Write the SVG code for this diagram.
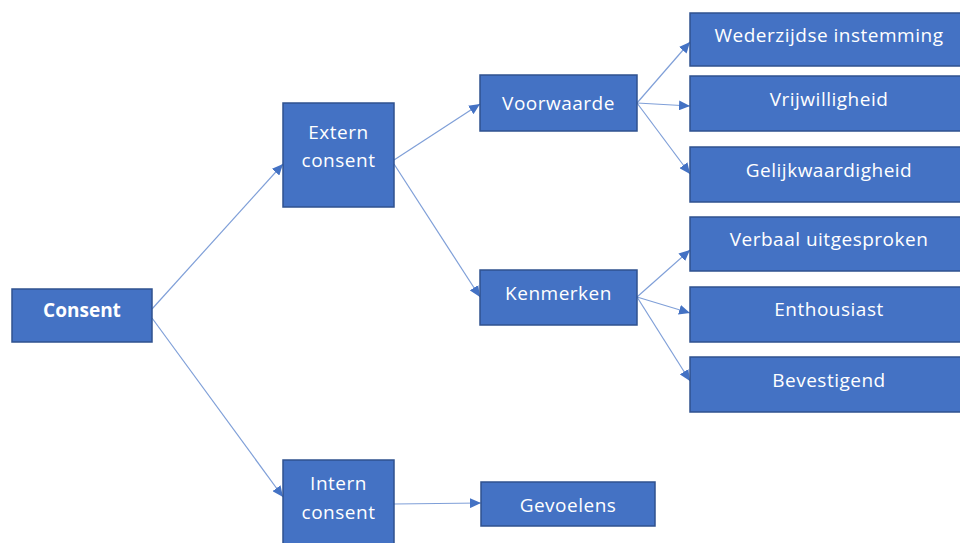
<svg xmlns="http://www.w3.org/2000/svg" width="960" height="543" viewBox="0 0 960 543">
<defs>
<marker id="ah" markerUnits="userSpaceOnUse" markerWidth="12" markerHeight="10" refX="11" refY="5" orient="auto">
<path d="M0,0 L11,5 L0,10 Z" fill="#4472C4"/>
</marker>
<style>
.box{fill:#4472C4;stroke:#2F528F;stroke-width:1.5}
.t{font-family:"Open Sans","Liberation Sans",sans-serif;font-size:19px;letter-spacing:0.5px;fill:#FFFFFF;text-anchor:middle}
.b{font-weight:bold;letter-spacing:0}
.c{stroke:#7F9FD8;stroke-width:1.2;fill:none;marker-end:url(#ah)}
</style>
</defs>
<rect width="960" height="543" fill="#FFFFFF"/>
<g id="connectors">
<line class="c" x1="152" y1="309" x2="283" y2="164"/>
<line class="c" x1="152" y1="318" x2="283" y2="497"/>
<line class="c" x1="394" y1="160" x2="480" y2="104"/>
<line class="c" x1="394" y1="164" x2="480" y2="297"/>
<line class="c" x1="637" y1="103" x2="690" y2="42"/>
<line class="c" x1="637" y1="103" x2="690" y2="106"/>
<line class="c" x1="637" y1="103" x2="690" y2="174"/>
<line class="c" x1="637" y1="297" x2="690" y2="250"/>
<line class="c" x1="637" y1="297" x2="690" y2="313"/>
<line class="c" x1="637" y1="297" x2="690" y2="381"/>
<line class="c" x1="394" y1="504" x2="481" y2="503"/>
</g>
<g id="consent"><rect class="box" x="12" y="289" width="140" height="53"/><text class="t b" x="82" y="317">Consent</text></g>
<g id="extern"><rect class="box" x="283" y="103" width="111" height="104"/><text class="t" x="338.5" y="139">Extern</text><text class="t" x="338.5" y="167">consent</text></g>
<g id="intern"><rect class="box" x="283" y="460" width="111" height="100"/><text class="t" x="338.5" y="490">Intern</text><text class="t" x="338.5" y="519">consent</text></g>
<g id="voorwaarde"><rect class="box" x="480" y="75" width="157" height="56"/><text class="t" x="558.5" y="110">Voorwaarde</text></g>
<g id="kenmerken"><rect class="box" x="480" y="270" width="157" height="55"/><text class="t" x="558.5" y="300">Kenmerken</text></g>
<g id="gevoelens"><rect class="box" x="481" y="482" width="174" height="44"/><text class="t" x="568" y="512">Gevoelens</text></g>
<g id="wederzijdse"><rect class="box" x="690" y="13" width="280" height="53"/><text class="t" x="829" y="42">Wederzijdse instemming</text></g>
<g id="vrijwilligheid"><rect class="box" x="690" y="76" width="280" height="55"/><text class="t" x="829" y="106">Vrijwilligheid</text></g>
<g id="gelijkwaardigheid"><rect class="box" x="690" y="147" width="280" height="55"/><text class="t" x="829" y="177">Gelijkwaardigheid</text></g>
<g id="verbaal"><rect class="box" x="690" y="217" width="280" height="54"/><text class="t" x="829" y="246">Verbaal uitgesproken</text></g>
<g id="enthousiast"><rect class="box" x="690" y="287" width="280" height="55"/><text class="t" x="829" y="316">Enthousiast</text></g>
<g id="bevestigend"><rect class="box" x="690" y="357" width="280" height="55"/><text class="t" x="829" y="387">Bevestigend</text></g>
</svg>
